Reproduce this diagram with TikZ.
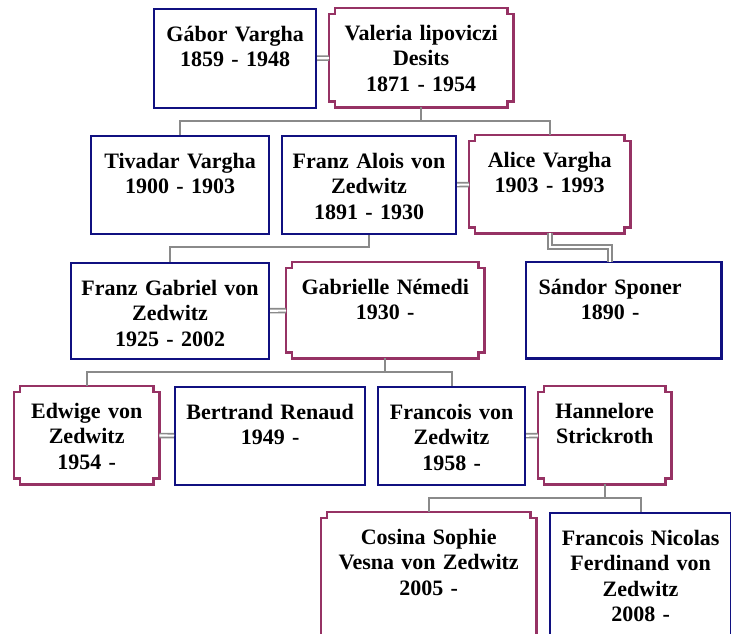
\documentclass[tikz,border=0pt]{standalone}
\usepackage{fontspec}
\setmainfont{Liberation Serif}
\usepackage{tikz}

\definecolor{manblue}{RGB}{16,16,128}
\definecolor{womanred}{RGB}{150,50,100}
\definecolor{kingray}{RGB}{138,138,138}

\begin{document}
\begin{tikzpicture}[x=1pt, y=-1pt,
        person/.style={anchor=north west, inner xsep=6pt, inner ysep=0pt, text width=#1pt-12pt, align=center,
            text height=32pt, text depth=66pt, font=\bfseries\fontsize{22}{25.5}\selectfont},
        man/.style={person=#1, draw=manblue, line width=2.2pt},
        woman/.style={person=#1},
        womanline/.style={draw=womanred, line width=2.2pt},
        kin/.style={draw=kingray, line width=2pt},
        wed/.style={draw=kingray, line width=1.7pt, double=white, double distance=2.2pt}]
        \useasboundingbox (0,0) rectangle (731,634);
        \fill [white] (0,0) rectangle (731,634);

        \node [man=162, text depth=67pt] (gabor) at (153,8) {Gábor Vargha\\1859 - 1948};
        \node [woman=184, text depth=67pt] (valeria) at (329,8) {Valeria lipoviczi\\Desits\\1871 - 1954};

        \node [man=178] (tivadar) at (90,135) {Tivadar Vargha\\1900 - 1903};
        \node [man=174] (franzalois) at (281,135) {Franz Alois von\\Zedwitz\\1891 - 1930};
        \node [woman=161] (alice) at (469,135) {Alice Vargha\\1903 - 1993};

        \node [man=198, text depth=64pt] (franzgabriel) at (70,262) {Franz Gabriel von\\Zedwitz\\1925 - 2002};
        \node [woman=198, text depth=64pt] (gabrielle) at (286,262) {Gabrielle Némedi\\1930 -};
        \node [person=168, text depth=64pt] (sandor) at (526,262) {Sándor Sponer\\1890 -};
        \draw [draw=manblue, line width=2.2pt] (sandor.north west) rectangle ([xshift=27pt]sandor.south east);

        \node [woman=145] (edwige) at (14,386) {Edwige von\\Zedwitz\\1954 -};
        \node [man=190] (bertrand) at (174,386) {Bertrand Renaud\\1949 -};
        \node [man=147] (francois) at (377,386) {Francois von\\Zedwitz\\1958 -};
        \node [woman=133] (hannelore) at (538,386) {Hannelore\\Strickroth};

        \node [woman=215, text depth=106pt] (cosina) at (321,512) {Cosina Sophie\\Vesna von Zedwitz\\2005 -};
        \node [man=181, text depth=106pt] (francoisnicolas) at (549,512) {Francois Nicolas\\Ferdinand von\\Zedwitz\\2008 -};

        % notched frames for the women
        \def\nk{6pt}
        \foreach \n in {valeria,alice,gabrielle,edwige,hannelore,cosina}
            \draw [womanline] ([xshift=\nk]\n.north west) -- ([xshift=-\nk]\n.north east) -- ++(0pt,-\nk) -- ++(\nk,0pt)
                -- ([yshift=\nk]\n.south east) -- ++(-\nk,0pt) -- ++(0pt,-\nk) -- ([xshift=\nk]\n.south west)
                -- ++(0pt,\nk) -- ++(-\nk,0pt) -- ([yshift=-\nk]\n.north west) -- ++(\nk,0pt) -- cycle;

        % couples
        \draw [wed] (gabor) -- (valeria);
        \draw [wed] (franzalois) -- (alice);
        \draw [wed] (franzgabriel) -- (gabrielle);
        \draw [wed] (edwige) -- (bertrand);
        \draw [wed] (francois) -- (hannelore);

        % children
        \coordinate (bar1) at (0,121);
        \coordinate (bar2) at (0,247);
        \coordinate (bar3) at (0,372);
        \coordinate (bar4) at (0,498);
        \draw [kin] (valeria.south) -- (valeria.south |- bar1) -| (tivadar.north);
        \draw [kin] (valeria.south |- bar1) -| (alice.north);
        \draw [kin] (franzalois.south) -- (franzalois.south |- bar2) -| (franzgabriel.north);
        \draw [wed] (alice.south) -- (alice.south |- bar2) -| (sandor.north);
        \draw [kin] (gabrielle.south) -- (gabrielle.south |- bar3) -| (edwige.north);
        \draw [kin] (gabrielle.south |- bar3) -| (francois.north);
        \draw [kin] (hannelore.south) -- (hannelore.south |- bar4) -| (cosina.north);
        \draw [kin] (hannelore.south |- bar4) -| (francoisnicolas.north);
\end{tikzpicture}
\end{document}
